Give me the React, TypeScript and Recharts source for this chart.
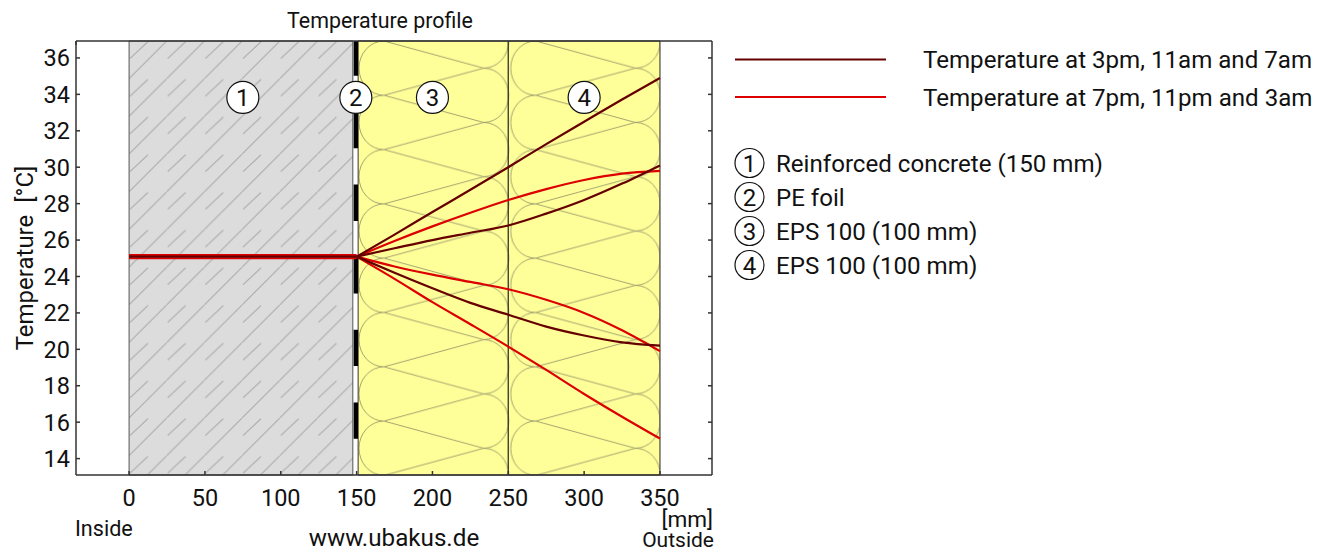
import {
  LineChart,
  Line,
  XAxis,
  YAxis,
  ReferenceArea,
  ReferenceDot,
  ReferenceLine,
} from "recharts";

const FONT = "Roboto, sans-serif";

const depths = [0, 150, 175, 200, 225, 250, 275, 300, 325, 350];

// flat part through the concrete, drawn as one thick band of three lines
const wallRedTop = [25.175, 25.175];
const wallRedBottom = [25.0, 25.0];
const wallDark = [25.09, 25.09];

// curves through the insulation
const day3pm = [null, 25.09, 26.3, 27.54, 28.76, 30.0, 31.27, 32.5, 33.72, 34.9];
const day11am = [null, 25.09, 25.55, 26.0, 26.4, 26.8, 27.45, 28.2, 29.1, 30.1];
const day7am = [null, 25.09, 24.2, 23.35, 22.55, 21.9, 21.25, 20.76, 20.38, 20.2];
const night7pm = [null, 25.09, 25.95, 26.75, 27.5, 28.2, 28.8, 29.3, 29.65, 29.8];
const night11pm = [null, 25.09, 24.55, 24.1, 23.7, 23.3, 22.72, 22.0, 21.05, 19.9];
const night3am = [null, 25.09, 23.87, 22.59, 21.38, 20.15, 18.87, 17.55, 16.3, 15.1];

const xTicks = [0, 50, 100, 150, 200, 250, 300, 350];
const yTicks = [14, 16, 18, 20, 22, 24, 26, 28, 30, 32, 34, 36];

const layerBadgeX = [75, 149.5, 200, 300];
const layerBadgeY = 33.83;

const legendLines = [
  { label: "Temperature at 3pm, 11am and 7am", color: "#660000" },
  { label: "Temperature at 7pm, 11pm and 3am", color: "#dd0000" },
];
const layerNames = [
  "Reinforced concrete (150 mm)",
  "PE foil",
  "EPS 100 (100 mm)",
  "EPS 100 (100 mm)",
];

const rows = depths.map((depth, i) => ({
  depth,
  wallRedTop: wallRedTop[i] ?? null,
  wallRedBottom: wallRedBottom[i] ?? null,
  wallDark: wallDark[i] ?? null,
  day3pm: day3pm[i],
  day11am: day11am[i],
  day7am: day7am[i],
  night7pm: night7pm[i],
  night11pm: night11pm[i],
  night3am: night3am[i],
}));

const FRAME = "#333333";
const TICK_TEXT = { fontSize: 23.5, fill: "#111111", fontFamily: FONT };

function Patterns() {
  return (
    <defs>
      <pattern
        id="concrete"
        patternUnits="userSpaceOnUse"
        width={37.7}
        height={37.7}
        patternTransform="translate(129 41)"
      >
        <rect width={37.7} height={37.7} fill="#dcdcdc" />
        <path
          d="M-1 38.7L38.7 -1M1 17.6L19 0.6"
          stroke="#a8a8a8"
          strokeWidth={1}
          fill="none"
        />
      </pattern>
      <pattern
        id="eps"
        patternUnits="userSpaceOnUse"
        width={151.7}
        height={54.3}
        patternTransform="translate(358 41)"
      >
        <rect width={151.7} height={54.3} fill="#ffff99" />
        <path
          d="M26 0A25 27.15 0 0 0 26 54.3L125.7 27.15L26 0M125.7 -27.15A25 27.15 0 0 1 125.7 27.15A25 27.15 0 0 1 125.7 81.45"
          stroke="#98986a"
          strokeWidth={0.9}
          fill="none"
        />
      </pattern>
    </defs>
  );
}

function Badge({ cx, cy, r, n }: { cx: number; cy: number; r: number; n: number }) {
  return (
    <g>
      <circle cx={cx} cy={cy} r={r} fill="#fff" stroke="#111" strokeWidth={1.2} />
      <text x={cx} y={cy + 8.5} textAnchor="middle" fontSize={24} fontFamily={FONT} fill="#111">
        {n}
      </text>
    </g>
  );
}

function Overlay() {
  const text = { fontFamily: FONT, fill: "#111111" };
  return (
    <svg
      width={1330}
      height={551}
      style={{ position: "absolute", left: 0, top: 0, pointerEvents: "none" }}
    >
      <text {...text} x={380} y={28} fontSize={21.4} textAnchor="middle">
        Temperature profile
      </text>
      <text {...text} x={75} y={536} fontSize={21.6}>
        Inside
      </text>
      <text {...text} x={394} y={546} fontSize={24.2} textAnchor="middle">
        www.ubakus.de
      </text>
      <text {...text} x={713} y={526.5} fontSize={22.6} textAnchor="end">
        [mm]
      </text>
      <text {...text} x={714} y={546.5} fontSize={21} textAnchor="end">
        Outside
      </text>

      {legendLines.map((l, i) => (
        <g key={l.label}>
          <line x1={735} x2={886} y1={59.5 + i * 37.5} y2={59.5 + i * 37.5} stroke={l.color} strokeWidth={2} />
          <text {...text} x={923} y={68 + i * 37.5} fontSize={24.1}>
            {l.label}
          </text>
        </g>
      ))}
      {layerNames.map((name, i) => (
        <g key={i}>
          <Badge cx={749.5} cy={163 + i * 34} r={14.5} n={i + 1} />
          <text {...text} x={776} y={171.5 + i * 34} fontSize={24.1}>
            {name}
          </text>
        </g>
      ))}
    </svg>
  );
}

const DARK = "#660000";
const RED = "#dd0000";

export default function App() {
  return (
    <div style={{ position: "absolute", left: 0, top: 0, width: 1330, height: 551 }}>
      <LineChart
        width={1330}
        height={551}
        data={rows}
        margin={{ top: 40, right: 617, bottom: 36, left: 36 }}
      >
        <Patterns />
        <XAxis
          dataKey="depth"
          type="number"
          domain={[-35, 384.3]}
          ticks={xTicks}
          allowDataOverflow
          height={40}
          tickSize={-4}
          tickMargin={18}
          stroke={FRAME}
          strokeWidth={1.5}
          tick={TICK_TEXT}
          interval={0}
        />
        <XAxis
          xAxisId="top"
          orientation="top"
          type="number"
          domain={[-35, 384.3]}
          ticks={xTicks}
          allowDataOverflow
          height={1}
          tickSize={-4}
          stroke={FRAME}
          strokeWidth={1.5}
          tickFormatter={() => ""}
          interval={0}
        />
        <YAxis
          type="number"
          domain={[13.1, 36.93]}
          ticks={yTicks}
          allowDataOverflow
          width={40}
          tickSize={-4}
          tickMargin={10}
          stroke={FRAME}
          strokeWidth={1.5}
          tick={TICK_TEXT}
          interval={0}
          label={{
            value: "Temperature\u00a0\u00a0[°C]",
            angle: -90,
            position: "insideLeft",
            offset: -12,
            style: { ...TICK_TEXT, fontSize: 24, textAnchor: "middle" },
          }}
        />
        <YAxis
          yAxisId="right"
          orientation="right"
          type="number"
          domain={[13.1, 36.93]}
          ticks={yTicks}
          allowDataOverflow
          width={1}
          tickSize={-4}
          stroke={FRAME}
          strokeWidth={1.5}
          tickFormatter={() => ""}
          interval={0}
        />

        <ReferenceArea x1={0} x2={147.5} fill="url(#concrete)" fillOpacity={1} stroke="#555555" />
        <ReferenceArea x1={151} x2={250} fill="url(#eps)" fillOpacity={1} stroke="#333333" />
        <ReferenceArea x1={250} x2={350} fill="url(#eps)" fillOpacity={1} stroke="#222222" />
        <ReferenceLine
          x={149.5}
          stroke="#000000"
          strokeWidth={4.4}
          strokeDasharray="36.3 36.3"
          strokeDashoffset={36.3}
        />

        <Line dataKey="wallRedTop" stroke={RED} strokeWidth={2.2} dot={false} isAnimationActive={false} />
        <Line dataKey="wallRedBottom" stroke={RED} strokeWidth={2.2} dot={false} isAnimationActive={false} />
        <Line dataKey="wallDark" stroke={DARK} strokeWidth={2.2} dot={false} isAnimationActive={false} />
        <Line type="monotone" dataKey="night7pm" stroke={RED} strokeWidth={2.2} dot={false} isAnimationActive={false} />
        <Line type="monotone" dataKey="night11pm" stroke={RED} strokeWidth={2.2} dot={false} isAnimationActive={false} />
        <Line type="monotone" dataKey="night3am" stroke={RED} strokeWidth={2.2} dot={false} isAnimationActive={false} />
        <Line type="monotone" dataKey="day3pm" stroke={DARK} strokeWidth={2.2} dot={false} isAnimationActive={false} />
        <Line type="monotone" dataKey="day11am" stroke={DARK} strokeWidth={2.2} dot={false} isAnimationActive={false} />
        <Line type="monotone" dataKey="day7am" stroke={DARK} strokeWidth={2.2} dot={false} isAnimationActive={false} />

        {layerBadgeX.map((x, i) => (
          <ReferenceDot
            key={i}
            x={x}
            y={layerBadgeY}
            r={16}
            fill="#ffffff"
            fillOpacity={1}
            stroke="#111111"
            strokeWidth={1.2}
            label={{ value: i + 1, position: "center", ...TICK_TEXT, fontSize: 24 }}
          />
        ))}
      </LineChart>
      <Overlay />
    </div>
  );
}
